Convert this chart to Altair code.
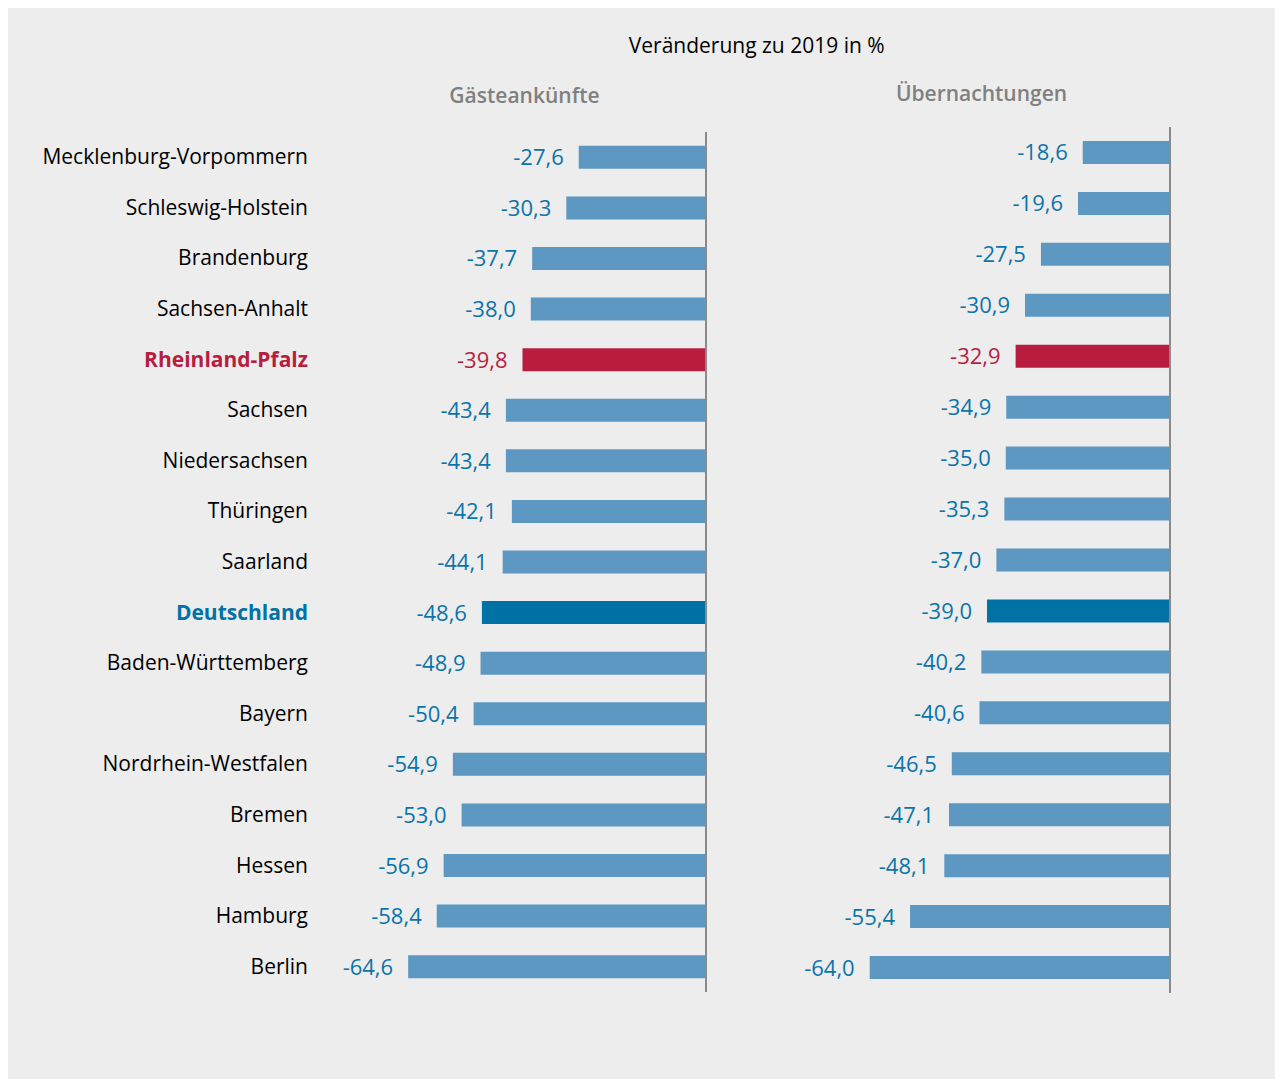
import altair as alt
import pandas as pd

regions = ["Mecklenburg-Vorpommern", "Schleswig-Holstein", "Brandenburg", "Sachsen-Anhalt",
           "Rheinland-Pfalz", "Sachsen", "Niedersachsen", "Thüringen", "Saarland",
           "Deutschland", "Baden-Württemberg", "Bayern", "Nordrhein-Westfalen", "Bremen",
           "Hessen", "Hamburg", "Berlin"]
arrivals = [-27.6, -30.3, -37.7, -38.0, -39.8, -43.4, -43.4, -42.1, -44.1,
            -48.6, -48.9, -50.4, -54.9, -53.0, -56.9, -58.4, -64.6]
nights = [-18.6, -19.6, -27.5, -30.9, -32.9, -34.9, -35.0, -35.3, -37.0,
          -39.0, -40.2, -40.6, -46.5, -47.1, -48.1, -55.4, -64.0]

RED = "#b81d3f"
DE = "#0072a6"
BAR = "#5c98c1"
VAL = "#0b74aa"
FONT = "Open Sans"

def bar_color(r):
    return RED if r == "Rheinland-Pfalz" else (DE if r == "Deutschland" else BAR)

def val_color(r):
    return RED if r == "Rheinland-Pfalz" else VAL

def lab_color(r):
    return RED if r == "Rheinland-Pfalz" else (DE if r == "Deutschland" else "#000000")

df = pd.DataFrame({
    "region": regions,
    "arrivals": arrivals,
    "nights": nights,
    "bar_color": [bar_color(r) for r in regions],
    "val_color": [val_color(r) for r in regions],
    "lab_color": [lab_color(r) for r in regions],
    "bold": [r in ("Rheinland-Pfalz", "Deutschland") for r in regions],
})

H = 860

def panel(field, title, width, dmin, yrange, toff, tdx, with_labels):
    base = alt.Chart(df).transform_calculate(
        lbl=f"'-' + replace(format(abs(datum.{field}), '.1f'), '.', ',')"
    )
    y = alt.Y("region:N", sort=regions, axis=None,
              scale=alt.Scale(paddingInner=0, paddingOuter=0, range=yrange))
    x = alt.X(f"{field}:Q", axis=None, scale=alt.Scale(domain=[dmin, 0], nice=False))
    bars = base.mark_bar(size=23).encode(
        x=x, x2=alt.datum(0), y=y,
        color=alt.Color("bar_color:N", scale=None),
    )
    vals = base.mark_text(align="right", baseline="middle", dx=-15, dy=1,
                          fontSize=22, font=FONT).encode(
        x=x, y=y, text="lbl:N",
        color=alt.Color("val_color:N", scale=None),
    )
    rule = alt.Chart(df).mark_rule(color="#8a8a8a", strokeWidth=2).encode(
        x=alt.datum(0), y=alt.value(yrange[0]), y2=alt.value(yrange[1])
    )
    layers = [bars, vals, rule]
    if with_labels:
        for b in (False, True):
            layers.append(
                base.transform_filter(f"datum.bold == {str(b).lower()}")
                .mark_text(align="right", baseline="middle", dx=-13, dy=1, fontSize=21,
                           font=FONT, fontWeight="bold" if b else "normal")
                .encode(x=alt.value(0), y=y, text="region:N",
                        color=alt.Color("lab_color:N", scale=None))
            )
    return alt.layer(*layers).properties(
        width=width, height=H,
        title=alt.TitleParams(title, fontSize=21, font=FONT, color="#808080",
                              fontWeight=600, anchor="middle", offset=toff, dx=tdx),
    )

left = panel("arrivals", "Gästeankünfte", 385, -83.5, [0, 860], 24, 11, True)
right = panel("nights", "Übernachtungen", 389, -82.9, [-5, 861], 21, 6, False)

chart = alt.hconcat(left, right, spacing=74).properties(
    title=alt.TitleParams("Veränderung zu 2019 in %", fontSize=21, font=FONT,
                          color="#000000", fontWeight="normal", anchor="middle",
                          dx=150, offset=27),
    padding={"left": 34, "top": 28, "right": 104, "bottom": 85},
    background="#ededed",
).configure_view(stroke=None)

chart.save("out.html", embed_options={"renderer": "svg", "actions": False})
